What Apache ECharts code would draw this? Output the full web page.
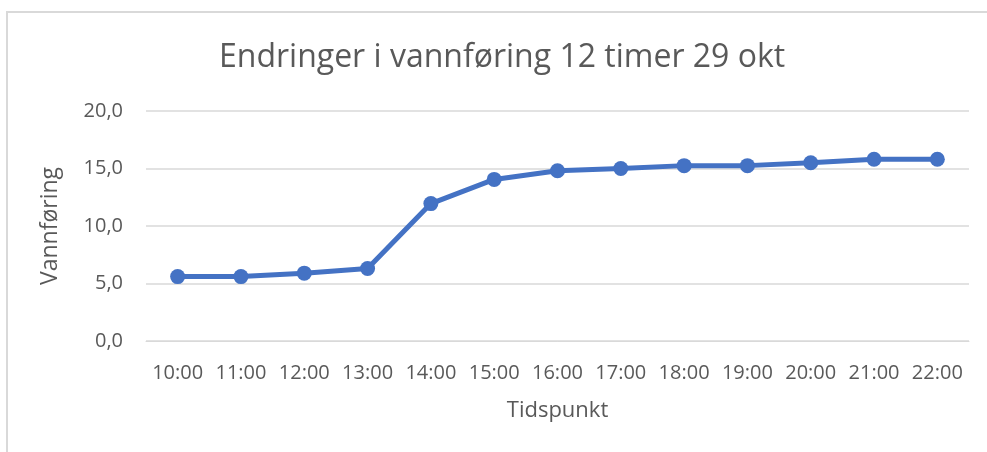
<!DOCTYPE html>
<html>
<head>
<meta charset="utf-8">
<script src="https://cdn.jsdelivr.net/npm/echarts@6/dist/echarts.min.js"></script>
<style>
  html, body { margin: 0; padding: 0; background: #fff; }
  #chart { width: 987px; height: 452px; }
</style>
</head>
<body>
<div id="chart"></div>
<script>
// data
var hours = ['10:00','11:00','12:00','13:00','14:00','15:00','16:00','17:00','18:00','19:00','20:00','21:00','22:00'];
var vannforing = [5.6, 5.6, 5.9, 6.3, 11.95, 14.05, 14.8, 15.0, 15.25, 15.25, 15.5, 15.8, 15.8];

var txt = '#595959';
var fnt = '"Open Sans", "Noto Sans", sans-serif';

var myChart = echarts.init(document.getElementById('chart'));

option = {
    animation: false,
    backgroundColor: '#fff',
    title: {
        text: 'Endringer i vannføring 12 timer 29 okt',
        left: 214,
        top: 37,
        textStyle: { fontFamily: fnt, fontSize: 32, fontWeight: 'normal', color: txt }
    },
    // light frame of the chart area (top and left edges only)
    graphic: [
        { type: 'line', shape: { x1: 6, y1: 12, x2: 987, y2: 12 }, style: { stroke: '#d9d9d9', lineWidth: 2 } },
        { type: 'line', shape: { x1: 7, y1: 12, x2: 7, y2: 452 }, style: { stroke: '#d9d9d9', lineWidth: 2 } }
    ],
    grid: {
        left: 146,
        right: 18,
        top: 111,
        bottom: 111
    },
    xAxis: {
        type: 'category',
        data: hours,
        boundaryGap: true,
        name: 'Tidspunkt',
        nameLocation: 'middle',
        nameGap: 59,
        nameTextStyle: { fontFamily: fnt, fontSize: 22, color: txt },
        axisLine: { show: true, lineStyle: { color: '#d9d9d9', width: 1 } },
        axisTick: { show: false },
        axisLabel: { fontFamily: fnt, fontSize: 20, color: txt, margin: 22, interval: 0 }
    },
    yAxis: {
        type: 'value',
        min: 0,
        max: 20,
        interval: 5,
        name: 'Vannføring',
        nameLocation: 'middle',
        nameGap: 84,
        nameTextStyle: { fontFamily: fnt, fontSize: 23, color: txt },
        axisLine: { show: false },
        axisTick: { show: false },
        axisLabel: {
            fontFamily: fnt, fontSize: 20, color: txt, margin: 23,
            formatter: function (v) { return v.toFixed(1).replace('.', ','); }
        },
        splitLine: { lineStyle: { color: '#d9d9d9', width: 1.5 } }
    },
    series: [
        {
            name: 'Vannføring',
            type: 'line',
            data: vannforing,
            symbol: 'circle',
            symbolSize: 15,
            itemStyle: { color: '#4472C4' },
            lineStyle: { color: '#4472C4', width: 5 }
        }
    ]
};
myChart.setOption(option);
</script>
</body>
</html>
